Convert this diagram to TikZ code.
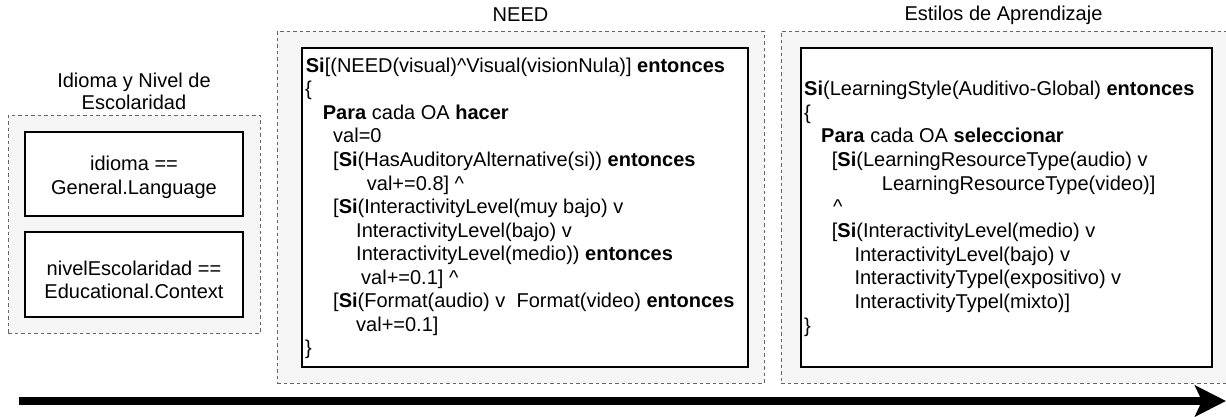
\documentclass[tikz,border=0pt]{standalone}
\usepackage{fontspec}
\setmainfont{Liberation Sans}
\usetikzlibrary{arrows.meta}
\definecolor{panelfill}{HTML}{F5F5F5}
\definecolor{panelline}{HTML}{666666}
\begin{document}
\begin{tikzpicture}[x=1pt,y=-1pt,
  panel/.style={draw=panelline, fill=panelfill, line width=1pt, dash pattern=on 3.5pt off 3pt, inner sep=0pt, minimum width=#1},
  codebox/.style={draw=black, fill=white, line width=1.3pt, inner sep=0pt},
  condbox/.style={draw=black, fill=white, line width=1.3pt, inner sep=0pt, minimum width=218pt},
  condtxt/.style={inner sep=0pt, align=center, font=\fontsize{20}{23.5}\selectfont},
  txt/.style={anchor=base west, inner sep=0pt, font=\fontsize{20}{24}\selectfont},
  title/.style={inner sep=0pt, align=center, font=\fontsize{20}{22}\selectfont},
  timeline/.style={line width=7.5pt, -{Stealth[length=31pt,width=31pt,inset=7pt]}}
]
\useasboundingbox (0,0) rectangle (1226,416);

% panels
\node[panel=252pt, minimum height=218pt] (lp) at (134,224) {};
\node[panel=487pt, minimum height=352pt] (mp) at (520.5,207) {};
\node[panel=447pt, minimum height=352pt] (rp) at (1004.5,207) {};

% titles
\node[title] (tl) at (134,91) {Idioma y Nivel de\\Escolaridad};
\node[title] (tm) at (520.5,15) {NEED};
\node[title] (tr) at (1003.5,15) {Estilos de Aprendizaje};

% left condition boxes
\node[condbox, minimum height=84pt] (b1) at (134,174) {};
\node[condtxt] (b1t) at (134,177.5) {idioma ==\\General.Language};
\node[condbox, minimum height=85pt] (b2) at (134,274.5) {};
\node[condtxt] (b2t) at (134,280) {nivelEscolaridad ==\\Educational.Context};

% code boxes
\node[codebox, minimum width=446pt, minimum height=319pt] (mi) at (525,207.5) {};
\node[codebox, minimum width=411pt, minimum height=319pt] (ri) at (1006.5,207.5) {};

% NEED code
\node[txt] (m1) at (305.7,72.2) {\textbf{Si}[(NEED(visual)\textasciicircum Visual(visionNula)] \textbf{entonces}};
\node[txt] (m2) at (305,95.8) {\{};
\node[txt] (m3) at (322.7,119.3) {\textbf{Para} cada OA \textbf{hacer}};
\node[txt] (m4) at (333,142.9) {val=0};
\node[txt] (m5) at (333,166.4) {[\textbf{Si}(HasAuditoryAlternative(si)) \textbf{entonces}};
\node[txt] (m6) at (366.7,190) {val+=0.8] \textasciicircum};
\node[txt] (m7) at (333,213.5) {[\textbf{Si}(InteractivityLevel(muy bajo) v};
\node[txt] (m8) at (356,237.1) {InteractivityLevel(bajo) v};
\node[txt] (m9) at (356,260.6) {InteractivityLevel(medio)) \textbf{entonces}};
\node[txt] (m10) at (361,284.2) {val+=0.1] \textasciicircum};
\node[txt] (m11) at (333,307.7) {[\textbf{Si}(Format(audio) v\ \ Format(video) \textbf{entonces}};
\node[txt] (m12) at (356,331.3) {val+=0.1]};
\node[txt] (m13) at (305,354.8) {\}};

% Learning style code
\node[txt] (r1) at (804,95.5) {\textbf{Si}(LearningStyle(Auditivo-Global) \textbf{entonces}};
\node[txt] (r2) at (804,119.2) {\{};
\node[txt] (r3) at (821,142.8) {\textbf{Para} cada OA \textbf{seleccionar}};
\node[txt] (r4) at (831.7,166.5) {[\textbf{Si}(LearningResourceType(audio) v};
\node[txt] (r5) at (881.7,190.2) {LearningResourceType(video)]};
\node[txt] (r6) at (833,213.8) {\textasciicircum};
\node[txt] (r7) at (831.7,237.5) {[\textbf{Si}(InteractivityLevel(medio) v};
\node[txt] (r8) at (854.3,261.2) {InteractivityLevel(bajo) v};
\node[txt] (r9) at (854.3,284.8) {InteractivityTypel(expositivo) v};
\node[txt] (r10) at (854.3,308.5) {InteractivityTypel(mixto)]};
\node[txt] (r11) at (804,332.2) {\}};

% time arrow
\coordinate (as) at (19,401);
\coordinate (ae) at (1226,401);
\draw[timeline] (as) -- (ae);
\end{tikzpicture}
\end{document}
